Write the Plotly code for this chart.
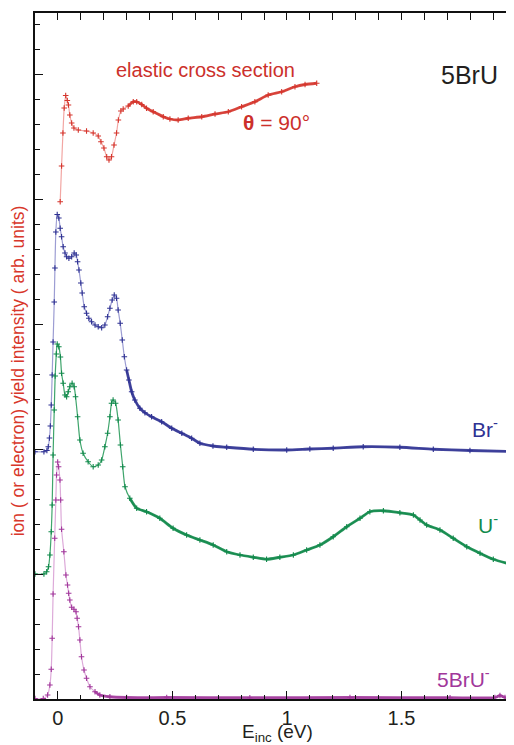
import plotly.graph_objects as go

# ---------------- data (E in eV, intensity in arb. units) ----------------
elastic_x = [0.010, 0.016, 0.022, 0.0275, 0.034, 0.041, 0.046, 0.052, 0.060, 0.070,
             0.089, 0.125, 0.154, 0.176, 0.188, 0.201, 0.213, 0.223, 0.234, 0.245,
             0.256, 0.264, 0.275, 0.285, 0.307, 0.329, 0.344, 0.366, 0.387, 0.416,
             0.460, 0.489, 0.525, 0.569, 0.628, 0.686, 0.744, 0.802, 0.860, 0.918,
             0.977, 1.035, 1.079, 1.130]
elastic_y = [3.978, 4.264, 4.528, 4.728, 4.828, 4.788, 4.752, 4.672, 4.608, 4.568,
             4.552, 4.544, 4.528, 4.504, 4.458, 4.408, 4.338, 4.312, 4.338, 4.432,
             4.528, 4.632, 4.704, 4.720, 4.744, 4.778, 4.778, 4.756, 4.726, 4.698,
             4.658, 4.640, 4.632, 4.646, 4.658, 4.680, 4.698, 4.738, 4.778, 4.832,
             4.858, 4.898, 4.916, 4.926]

br_x = [-0.100, -0.061, -0.048, -0.042, -0.037, -0.033, -0.029, -0.025, -0.021, -0.016,
        -0.013, -0.009, -0.003, 0.004, 0.010, 0.016, 0.023, 0.031, 0.038, 0.048,
        0.060, 0.071, 0.080, 0.086, 0.092, 0.100, 0.106, 0.115, 0.125, 0.135,
        0.147, 0.162, 0.176, 0.191, 0.205, 0.217, 0.227, 0.237, 0.246, 0.256,
        0.263, 0.272, 0.281, 0.290, 0.300, 0.310, 0.322, 0.336, 0.358, 0.380,
        0.409, 0.453, 0.497, 0.541, 0.584, 0.620, 0.677, 0.737, 0.853, 0.999,
        1.100, 1.202, 1.333, 1.493, 1.639, 1.799, 1.991]
br_y = [1.978, 1.978, 1.988, 2.018, 2.088, 2.184, 2.352, 2.592, 2.856, 3.176,
        3.448, 3.736, 3.876, 3.848, 3.766, 3.698, 3.618, 3.568, 3.538, 3.526,
        3.538, 3.568, 3.552, 3.498, 3.432, 3.328, 3.248, 3.138, 3.086, 3.046,
        3.018, 2.992, 2.978, 2.970, 2.992, 3.058, 3.126, 3.192, 3.232, 3.206,
        3.112, 3.006, 2.872, 2.738, 2.632, 2.552, 2.458, 2.392, 2.326, 2.290,
        2.258, 2.218, 2.166, 2.126, 2.086, 2.046, 2.024, 2.014, 1.998, 1.992,
        2.000, 2.006, 2.018, 2.014, 1.998, 1.988, 1.980]

u_x = [-0.100, -0.061, -0.049, -0.041, -0.035, -0.029, -0.025, -0.021, -0.016, -0.012,
       -0.007, -0.003, 0.004, 0.011, 0.016, 0.023, 0.031, 0.038, 0.045, 0.052,
       0.062, 0.071, 0.077, 0.086, 0.096, 0.110, 0.132, 0.154, 0.176, 0.191,
       0.205, 0.217, 0.227, 0.234, 0.241, 0.252, 0.263, 0.273, 0.283, 0.293,
       0.314, 0.344, 0.387, 0.445, 0.503, 0.562, 0.620, 0.678, 0.737, 0.795,
       0.853, 0.911, 0.969, 1.028, 1.086, 1.144, 1.202, 1.261, 1.319, 1.362,
       1.421, 1.493, 1.552, 1.581, 1.610, 1.668, 1.726, 1.785, 1.843, 1.901,
       1.988]
u_y = [1.000, 1.000, 1.018, 1.058, 1.152, 1.338, 1.552, 1.952, 2.312, 2.584,
       2.760, 2.840, 2.818, 2.736, 2.606, 2.526, 2.432, 2.418, 2.458, 2.498,
       2.526, 2.498, 2.418, 2.258, 2.072, 1.966, 1.898, 1.858, 1.872, 1.912,
       2.018, 2.126, 2.258, 2.366, 2.392, 2.366, 2.232, 2.032, 1.858, 1.698,
       1.606, 1.526, 1.498, 1.446, 1.366, 1.312, 1.272, 1.232, 1.178, 1.152,
       1.134, 1.118, 1.134, 1.152, 1.192, 1.232, 1.298, 1.378, 1.446, 1.498,
       1.506, 1.490, 1.472, 1.432, 1.392, 1.352, 1.286, 1.218, 1.166, 1.118,
       1.072]

bru_x = [-0.100, -0.064, -0.045, -0.035, -0.029, -0.025, -0.021, -0.014, -0.009, -0.006,
         -0.001, 0.003, 0.009, 0.012, 0.016, 0.026, 0.035, 0.042, 0.047, 0.052,
         0.060, 0.070, 0.079, 0.084, 0.090, 0.096, 0.103, 0.114, 0.125, 0.140,
         0.162, 0.183, 0.227, 0.300, 0.475, 0.838, 1.275, 1.712, 1.908, 1.930,
         1.952, 1.991]
bru_y = [0.004, 0.004, 0.032, 0.112, 0.238, 0.486, 0.840, 1.286, 1.592, 1.792,
         1.896, 1.858, 1.752, 1.592, 1.358, 1.178, 0.992, 0.912, 0.846, 0.792,
         0.734, 0.718, 0.698, 0.646, 0.578, 0.472, 0.338, 0.232, 0.166, 0.098,
         0.058, 0.032, 0.018, 0.012, 0.012, 0.010, 0.012, 0.010, 0.012, 0.028,
         0.012, 0.010]

x_tick_vals = [0, 0.5, 1, 1.5]
x_tick_text = ["0", "0.5", "1", "1.5"]

FONT = "Liberation Sans, Arial, Helvetica, sans-serif"

series = [
    # x, y, marker colour, line colour, dense-from
    (elastic_x, elastic_y, "#d5352c", "#f2a6a3", 0.30),
    (br_x, br_y, "#2f3293", "#9c9dd3", 0.30),
    (u_x, u_y, "#128a4c", "#3fa56c", 0.30),
    (bru_x, bru_y, "#a1379b", "#ddaad9", 0.15),
]

fig = go.Figure()
for xs, ys, mc, lc, dense in series:
    fig.add_trace(go.Scatter(
        x=xs, y=ys, mode="lines+markers",
        line=dict(color=lc, width=1.2, shape="spline", smoothing=0.6),
        marker=dict(symbol="cross-thin", size=4, color=mc,
                    line=dict(color=mc, width=1.1)),
        showlegend=False, hoverinfo="skip"))
    tx = [x for x in xs if x >= dense]
    ty = [y for x, y in zip(xs, ys) if x >= dense]
    fig.add_trace(go.Scatter(
        x=tx, y=ty, mode="lines",
        line=dict(color=mc, width=2.8, shape="spline", smoothing=0.6),
        opacity=0.9, showlegend=False, hoverinfo="skip"))

# dummy trace to carry the top / right tick axes
fig.add_trace(go.Scatter(x=[None], y=[None], xaxis="x2", yaxis="y2",
                         showlegend=False, hoverinfo="skip"))

XR = [-0.1, 1.9913]
# page body has an 8px margin; the figure is sized so the plot frame lands
# at left 35, top 13, bottom 699 and reaches the right edge of the window
fig.update_layout(
    width=506, height=737,
    margin=dict(l=27, r=0, t=5, b=46),
    paper_bgcolor="white", plot_bgcolor="white",
    font=dict(family=FONT, color="#231f20"),
    xaxis=dict(range=XR, showgrid=False, zeroline=False,
               showline=True, linecolor="#111", linewidth=1.5,
               ticks="inside", ticklen=8, tickwidth=1.3, tickcolor="#111",
               tickvals=x_tick_vals, ticktext=x_tick_text,
               tickfont=dict(size=20, color="#231f20"),
               minor=dict(dtick=0.1, tick0=0, ticks="inside", ticklen=4,
                          tickwidth=1.2, tickcolor="#111")),
    yaxis=dict(range=[0, 5.488], showgrid=False, zeroline=False,
               showline=True, linecolor="#111", linewidth=1.5,
               ticks="inside", ticklen=8, tickwidth=1.3, tickcolor="#111",
               dtick=1, tick0=0, showticklabels=False,
               minor=dict(dtick=0.2, tick0=0, ticks="inside", ticklen=5,
                          tickwidth=1.2, tickcolor="#111")),
    xaxis2=dict(range=XR, overlaying="x", side="top", showgrid=False,
                zeroline=False, showline=True, linecolor="#111", linewidth=1.5,
                ticks="inside", ticklen=7, tickwidth=1.2, tickcolor="#111",
                dtick=0.1, tick0=0, showticklabels=False),
    yaxis2=dict(range=[0, 20], overlaying="y", side="right", showgrid=False,
                zeroline=False, showline=False,
                ticks="inside", ticklen=8, tickwidth=1.3, tickcolor="#111",
                dtick=5, tick0=0, showticklabels=False,
                minor=dict(dtick=1, tick0=0, ticks="inside", ticklen=5,
                           tickwidth=1.2, tickcolor="#111")),
)

ann = [
    dict(text="elastic cross section", x=0.355, y=0.917, size=20, color="#cc302b"),
    dict(text="<b>θ</b> = 90°", x=0.505, y=0.841, size=21, color="#cc302b"),
    dict(text="5BrU", x=0.908, y=0.910, size=25, color="#231f20"),
]
for a in ann:
    fig.add_annotation(text=a["text"], x=a["x"], y=a["y"], xref="paper", yref="paper",
                       showarrow=False, xanchor="center", yanchor="middle",
                       font=dict(size=a["size"], color=a["color"], family=FONT))

labels = [
    ("Br<sup>-</sup>", 0.908, 0.395, "#2f3293"),
    ("U<sup>-</sup>", 0.921, 0.255, "#128a4c"),
    ("5BrU<sup>-</sup>", 0.835, 0.031, "#a1379b"),
]
for t, x, y, c in labels:
    fig.add_annotation(text=t, x=x, y=y, xref="paper", yref="paper", showarrow=False,
                       xanchor="left", yanchor="middle",
                       font=dict(size=21, color=c, family=FONT))

# x axis title
fig.add_annotation(text="E<sub>inc</sub> (eV)", x=0.507, y=-0.050, xref="paper",
                   yref="paper", showarrow=False, xanchor="center", yanchor="middle",
                   font=dict(size=19, color="#231f20", family=FONT))
# y axis title
fig.add_annotation(text="ion ( or electron) yield intensity ( arb. units)",
                   x=-0.035, y=0.478, xref="paper", yref="paper", showarrow=False,
                   xanchor="center", yanchor="middle", textangle=-90,
                   font=dict(size=17.5, color="#d8372b", family=FONT))
# clipped "2" tick label at the right edge
fig.add_annotation(text="2", x=1.0021, y=-0.0175, xref="paper", yref="paper",
                   showarrow=False, xanchor="center", yanchor="middle",
                   font=dict(size=20, color="#231f20", family=FONT))

fig.write_html("out.html")
